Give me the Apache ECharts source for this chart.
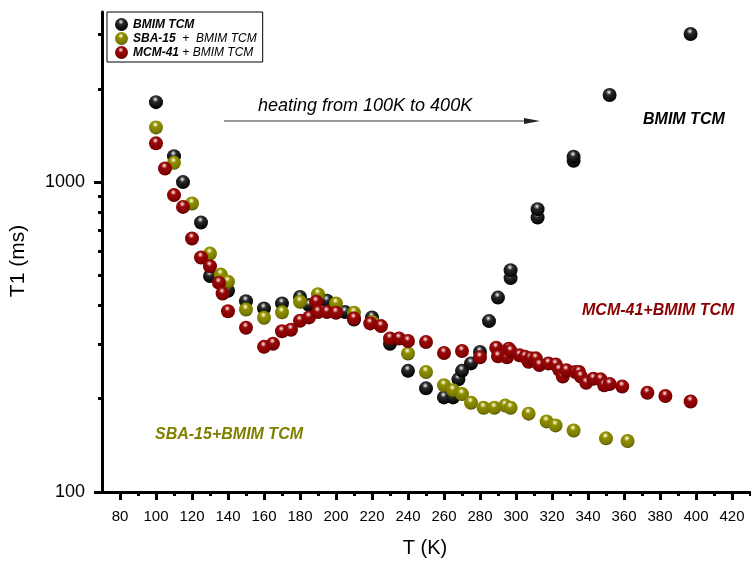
<!DOCTYPE html>
<html>
<head>
<meta charset="UTF-8">
<title>T1 vs T</title>
<script src="https://cdn.jsdelivr.net/npm/echarts@6.0.0/dist/echarts.min.js"></script>
<style>
    html, body { margin: 0; padding: 0; background: #fff; }
    #chart { width: 751px; height: 564px; }
</style>
</head>
<body>
<div id="chart"></div>
<script>
    // BMIM TCM (bulk)
    const bmimT  = [100, 110, 115, 125, 130, 140, 150, 160, 170, 180, 185, 195, 205, 210, 220, 230, 240, 250, 260, 265, 268, 270, 275, 280, 285, 290, 297, 297, 312, 312, 332, 332, 352, 397];
    const bmimT1 = [1812, 1213, 1000, 741, 498, 446, 413, 391, 406, 426, 401, 414, 381, 360, 366, 301, 246, 216, 202, 202, 231, 246, 260, 283, 356, 424, 490, 520, 769, 818, 1172, 1207, 1910, 3005];

    // SBA-15 + BMIM TCM
    const sbaT  = [100, 110, 120, 130, 136, 140, 150, 160, 170, 180, 190, 200, 210, 220, 240, 250, 260, 265, 270, 275, 282, 288, 294, 297, 307, 317, 322, 332, 350, 362];
    const sbaT1 = [1502, 1154, 853, 588, 503, 477, 388, 365, 380, 411, 435, 406, 379, 354, 280, 244, 221, 213, 207, 194, 187, 187, 190, 187, 179, 169, 164, 158, 149, 146];

    // MCM-41 + BMIM TCM
    const mcmT  = [100, 105, 110, 115, 120, 125, 130, 135, 137, 140, 150, 160, 165, 170, 175, 180, 185, 189, 190, 195, 200, 210, 219, 225, 230, 235, 240, 250, 260, 270, 280, 289, 290, 295, 296, 297, 302, 305, 307, 308, 311, 313, 318, 322, 324, 326, 328, 333, 335, 336, 339, 343, 347, 349, 352, 359, 373, 383, 397];
    const mcmT1 = [1334, 1107, 908, 832, 658, 571, 535, 473, 437, 383, 339, 294, 301, 330, 334, 357, 366, 411, 381, 381, 379, 363, 350, 343, 313, 313, 307, 305, 281, 285, 272, 292, 274, 272, 290, 285, 276, 273, 263, 270, 270, 257, 260, 258, 248, 236, 247, 244, 244, 236, 225, 232, 231, 221, 223, 219, 209, 204, 196];

    // ticks
    const xMajorTicks = [80, 100, 120, 140, 160, 180, 200, 220, 240, 260, 280, 300, 320, 340, 360, 380, 400, 420];
    const xMinorTicks = [90, 110, 130, 150, 170, 190, 210, 230, 250, 270, 290, 310, 330, 350, 370, 390, 410, 430];
    const yMajorTicks = [100, 1000];
    const yMinorTicks = [200, 300, 400, 500, 600, 700, 800, 900, 2000, 3000];

    const FONT = '"Liberation Sans", Arial, sans-serif';

    // glossy ball look
    function sphere(hi, base, deep, rim) {
        return {
            type: 'radial', x: 0.45, y: 0.3, r: 0.7,
            colorStops: [
                { offset: 0, color: '#ffffff' },
                { offset: 0.12, color: hi },
                { offset: 0.3, color: base },
                { offset: 0.85, color: deep },
                { offset: 1, color: rim }
            ]
        };
    }

    const blackBall = sphere('#a0a0a0', '#2a2a2a', '#080808', '#000000');
    const oliveBall = sphere('#d8d890', '#909000', '#767600', '#454500');
    const redBall = sphere('#d89090', '#980808', '#800000', '#4c0000');

    const zip = (xs, ys) => xs.map((x, i) => [x, ys[i]]);

    const chart = echarts.init(document.getElementById('chart'));

    const xBase = {
        type: 'value', min: 70, max: 430, position: 'bottom',
        axisLine: { show: false },
        splitLine: { show: false },
        axisLabel: { show: false },
        axisTick: { show: false }
    };
    const yBase = {
        type: 'log', logBase: 10, min: 100, max: 3540, position: 'left',
        axisLine: { show: false },
        splitLine: { show: false },
        axisLabel: { show: false },
        axisTick: { show: false }
    };

    chart.setOption({
        animation: false,
        backgroundColor: '#fff',
        grid: { left: 102, right: 1, top: 12, bottom: 72 },
        xAxis: [
            Object.assign({}, xBase, {
                axisLine: { show: true, onZero: false, lineStyle: { color: '#000', width: 3 } },
                axisTick: { show: true, customValues: xMajorTicks, length: 8, lineStyle: { color: '#000', width: 3 } },
                axisLabel: { show: true, customValues: xMajorTicks, margin: 17, color: '#000', fontSize: 15, fontFamily: FONT }
            }),
            Object.assign({}, xBase, {
                axisTick: { show: true, customValues: xMinorTicks, length: 4, lineStyle: { color: '#000', width: 3 } }
            })
        ],
        yAxis: [
            Object.assign({}, yBase, {
                axisLine: { show: true, onZero: false, lineStyle: { color: '#000', width: 3 } },
                axisTick: { show: true, customValues: yMajorTicks, length: 8, lineStyle: { color: '#000', width: 3 } },
                axisLabel: {
                    show: true, customValues: yMajorTicks, margin: 17, color: '#000', fontSize: 18, fontFamily: FONT,
                    formatter: v => String(Math.round(v))
                }
            }),
            Object.assign({}, yBase, {
                axisTick: { show: true, customValues: yMinorTicks, length: 4, lineStyle: { color: '#000', width: 3 } }
            })
        ],
        legend: {
            orient: 'vertical', left: 107, top: 12,
            padding: [6, 6, 3, 8],
            borderColor: '#000', borderWidth: 1,
            itemWidth: 13, itemHeight: 13, itemGap: 1,
            icon: 'circle',
            data: ['BMIM TCM', 'SBA-15 + BMIM TCM', 'MCM-41 + BMIM TCM'],
            formatter: function (name) {
                if (name === 'BMIM TCM') return '{b|BMIM TCM}';
                if (name === 'SBA-15 + BMIM TCM') return '{b|SBA-15}{n|  +  BMIM TCM}';
                return '{b|MCM-41}{n| + BMIM TCM}';
            },
            textStyle: {
                rich: {
                    b: { fontFamily: FONT, fontSize: 12, fontWeight: 'bold', fontStyle: 'italic', color: '#000' },
                    n: { fontFamily: FONT, fontSize: 12, fontStyle: 'italic', color: '#000' }
                }
            }
        },
        series: [
            { name: 'BMIM TCM', type: 'scatter', symbolSize: 14, itemStyle: { color: blackBall, opacity: 1 }, data: zip(bmimT, bmimT1) },
            { name: 'SBA-15 + BMIM TCM', type: 'scatter', symbolSize: 14, itemStyle: { color: oliveBall, opacity: 1 }, data: zip(sbaT, sbaT1) },
            { name: 'MCM-41 + BMIM TCM', type: 'scatter', symbolSize: 14, itemStyle: { color: redBall, opacity: 1 }, data: zip(mcmT, mcmT1) }
        ],
        graphic: [
            // axis titles
            { type: 'text', x: 425, y: 548, style: { text: 'T (K)', font: '20px ' + FONT, fill: '#000', align: 'center', verticalAlign: 'middle' } },
            { type: 'text', x: 18, y: 261, rotation: Math.PI / 2, style: { text: 'T1 (ms)', font: '21px ' + FONT, fill: '#000', align: 'center', verticalAlign: 'middle' } },
            // heating arrow
            { type: 'text', x: 258, y: 106, style: { text: 'heating from 100K to 400K', font: 'italic 18px ' + FONT, fill: '#000', align: 'left', verticalAlign: 'middle' } },
            { type: 'line', shape: { x1: 224, y1: 121, x2: 528, y2: 121 }, style: { stroke: '#333', lineWidth: 1 } },
            { type: 'polygon', shape: { points: [[540, 121], [524, 118], [524, 124]] }, style: { fill: '#222' } },
            // series labels
            { type: 'text', x: 643, y: 120, style: { text: 'BMIM TCM', font: 'italic bold 16px ' + FONT, fill: '#000', align: 'left', verticalAlign: 'middle' } },
            { type: 'text', x: 582, y: 311, style: { text: 'MCM-41+BMIM TCM', font: 'italic bold 16px ' + FONT, fill: '#8b0000', align: 'left', verticalAlign: 'middle' } },
            { type: 'text', x: 155, y: 435, style: { text: 'SBA-15+BMIM TCM', font: 'italic bold 16px ' + FONT, fill: '#808000', align: 'left', verticalAlign: 'middle' } }
        ]
    });
</script>
</body>
</html>
